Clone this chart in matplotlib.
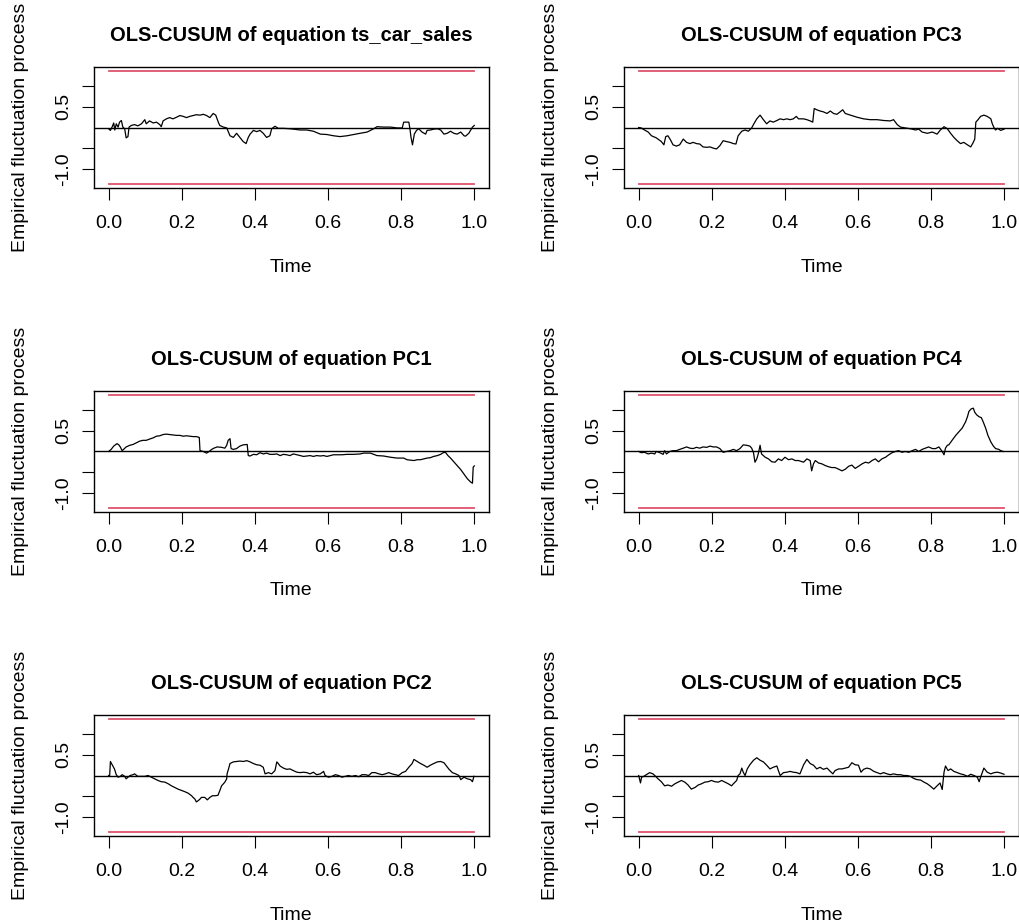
import matplotlib
matplotlib.use("Agg")
import matplotlib.pyplot as plt

plt.rcParams['font.family'] = ['Liberation Sans', 'DejaVu Sans']

# critical boundary of the OLS-CUSUM test (5%)
boundary = 1.358

titles = ["OLS-CUSUM of equation ts_car_sales", "OLS-CUSUM of equation PC3",
          "OLS-CUSUM of equation PC1", "OLS-CUSUM of equation PC4",
          "OLS-CUSUM of equation PC2", "OLS-CUSUM of equation PC5"]

t_car = [0.000, 0.005, 0.010, 0.014, 0.017, 0.021, 0.026, 0.030, 0.035, 0.039, 0.044, 0.048, 0.053, 0.056,
         0.062, 0.071, 0.080, 0.090, 0.099, 0.103, 0.112, 0.122, 0.131, 0.140, 0.144, 0.149, 0.158, 0.167,
         0.176, 0.186, 0.195, 0.204, 0.213, 0.222, 0.231, 0.240, 0.250, 0.259, 0.268, 0.277, 0.286, 0.293,
         0.300, 0.304, 0.314, 0.323, 0.332, 0.341, 0.350, 0.359, 0.368, 0.376, 0.382, 0.387, 0.396, 0.405,
         0.414, 0.423, 0.432, 0.441, 0.446, 0.455, 0.464, 0.478, 0.496, 0.515, 0.524, 0.542, 0.560, 0.579,
         0.597, 0.615, 0.633, 0.652, 0.670, 0.688, 0.707, 0.725, 0.734, 0.752, 0.771, 0.789, 0.803, 0.807,
         0.821, 0.824, 0.827, 0.831, 0.836, 0.842, 0.848, 0.857, 0.867, 0.871, 0.880, 0.889, 0.899, 0.908,
         0.917, 0.926, 0.935, 0.944, 0.953, 0.963, 0.972, 0.976, 0.985, 0.995, 1.000]
v_car = [-0.03, -0.07, 0.02, 0.11, -0.06, 0.09, 0.01, 0.13, 0.17, 0.01, -0.03, -0.25, -0.22, 0.01,
         0.05, 0.07, 0.04, 0.09, 0.19, 0.09, 0.16, 0.11, 0.13, 0.07, 0.02, 0.16, 0.21, 0.24,
         0.21, 0.25, 0.29, 0.27, 0.24, 0.27, 0.29, 0.31, 0.30, 0.32, 0.29, 0.24, 0.34, 0.30,
         0.13, 0.05, 0.01, -0.01, -0.20, -0.24, -0.14, -0.24, -0.34, -0.39, -0.24, -0.16, -0.07, -0.10,
         -0.07, -0.14, -0.24, -0.20, -0.03, 0.03, -0.02, -0.02, -0.03, -0.05, -0.06, -0.06, -0.09, -0.16,
         -0.17, -0.20, -0.22, -0.20, -0.17, -0.14, -0.11, -0.03, 0.02, 0.01, 0.01, -0.01, -0.01, 0.13,
         0.13, -0.03, -0.24, -0.42, -0.16, -0.07, -0.03, -0.11, -0.16, -0.07, -0.06, -0.04, -0.03, -0.06,
         -0.16, -0.14, -0.09, -0.14, -0.16, -0.11, -0.20, -0.21, -0.14, 0.01, 0.05]

t_pc3 = [0.000, 0.007, 0.016, 0.026, 0.035, 0.048, 0.062, 0.069, 0.074, 0.080, 0.087, 0.094, 0.103, 0.112,
         0.122, 0.131, 0.140, 0.149, 0.158, 0.167, 0.176, 0.186, 0.195, 0.204, 0.213, 0.222, 0.231, 0.240,
         0.250, 0.259, 0.266, 0.272, 0.282, 0.291, 0.300, 0.309, 0.315, 0.323, 0.332, 0.341, 0.350, 0.359,
         0.368, 0.378, 0.387, 0.396, 0.405, 0.414, 0.423, 0.431, 0.437, 0.451, 0.460, 0.469, 0.476, 0.480,
         0.487, 0.496, 0.505, 0.515, 0.524, 0.533, 0.542, 0.551, 0.558, 0.565, 0.579, 0.597, 0.615, 0.633,
         0.652, 0.670, 0.688, 0.697, 0.707, 0.716, 0.729, 0.743, 0.757, 0.766, 0.775, 0.789, 0.803, 0.816,
         0.825, 0.835, 0.844, 0.853, 0.862, 0.871, 0.880, 0.889, 0.899, 0.908, 0.915, 0.919, 0.922, 0.928,
         0.935, 0.944, 0.953, 0.963, 0.967, 0.972, 0.976, 0.981, 0.990, 0.999]
v_pc3 = [0.00, -0.01, -0.06, -0.11, -0.20, -0.25, -0.34, -0.42, -0.22, -0.20, -0.30, -0.42, -0.45, -0.42,
         -0.28, -0.36, -0.39, -0.36, -0.39, -0.40, -0.47, -0.48, -0.47, -0.50, -0.52, -0.44, -0.32, -0.34,
         -0.36, -0.39, -0.40, -0.20, -0.09, -0.06, -0.09, -0.01, 0.09, 0.21, 0.30, 0.19, 0.09, 0.16,
         0.13, 0.17, 0.21, 0.19, 0.21, 0.19, 0.21, 0.27, 0.21, 0.21, 0.19, 0.16, 0.13, 0.46,
         0.43, 0.40, 0.38, 0.34, 0.40, 0.34, 0.32, 0.38, 0.43, 0.34, 0.30, 0.25, 0.21, 0.19,
         0.19, 0.17, 0.16, 0.19, 0.07, 0.01, -0.01, -0.03, -0.06, -0.04, -0.11, -0.14, -0.11, -0.16,
         -0.06, 0.02, -0.03, -0.14, -0.24, -0.32, -0.39, -0.36, -0.42, -0.47, -0.36, -0.28, 0.13, 0.19,
         0.27, 0.30, 0.27, 0.21, 0.09, -0.01, -0.06, -0.02, -0.07, -0.04]

t_pc1 = [0.000, 0.003, 0.007, 0.014, 0.023, 0.028, 0.032, 0.037, 0.041, 0.048, 0.058, 0.067, 0.076, 0.085,
         0.094, 0.103, 0.112, 0.122, 0.131, 0.140, 0.149, 0.158, 0.167, 0.176, 0.186, 0.195, 0.204, 0.213,
         0.222, 0.231, 0.240, 0.248, 0.250, 0.259, 0.268, 0.275, 0.282, 0.288, 0.297, 0.309, 0.318, 0.323,
         0.327, 0.332, 0.335, 0.341, 0.350, 0.359, 0.368, 0.379, 0.382, 0.387, 0.396, 0.405, 0.414, 0.423,
         0.432, 0.441, 0.451, 0.460, 0.469, 0.478, 0.487, 0.496, 0.505, 0.515, 0.524, 0.533, 0.542, 0.551,
         0.560, 0.569, 0.579, 0.588, 0.597, 0.606, 0.615, 0.638, 0.652, 0.670, 0.688, 0.697, 0.716, 0.725,
         0.734, 0.752, 0.771, 0.789, 0.807, 0.816, 0.825, 0.835, 0.844, 0.853, 0.862, 0.871, 0.880, 0.889,
         0.899, 0.908, 0.915, 0.921, 0.928, 0.935, 0.944, 0.953, 0.963, 0.972, 0.981, 0.990, 0.995, 0.997,
         1.000]
v_pc1 = [0.00, 0.02, 0.05, 0.13, 0.19, 0.16, 0.11, 0.02, 0.05, 0.11, 0.15, 0.17, 0.21, 0.25,
         0.27, 0.27, 0.30, 0.33, 0.37, 0.38, 0.41, 0.42, 0.41, 0.40, 0.39, 0.39, 0.37, 0.38,
         0.37, 0.36, 0.36, 0.34, 0.02, 0.00, -0.04, 0.00, 0.05, 0.08, 0.11, 0.10, 0.08, 0.15,
         0.27, 0.31, 0.07, 0.05, 0.07, 0.13, 0.16, 0.17, -0.10, -0.11, -0.07, -0.08, -0.03, -0.06,
         -0.04, -0.07, -0.07, -0.06, -0.10, -0.07, -0.08, -0.10, -0.06, -0.08, -0.10, -0.12, -0.11, -0.10,
         -0.12, -0.10, -0.11, -0.10, -0.12, -0.10, -0.08, -0.08, -0.07, -0.07, -0.06, -0.04, -0.04, -0.07,
         -0.10, -0.11, -0.14, -0.16, -0.16, -0.20, -0.21, -0.22, -0.20, -0.20, -0.18, -0.16, -0.15, -0.12,
         -0.10, -0.07, -0.03, -0.02, -0.10, -0.16, -0.25, -0.34, -0.44, -0.55, -0.66, -0.74, -0.77, -0.38,
         -0.35]

t_pc4 = [0.000, 0.007, 0.016, 0.026, 0.035, 0.044, 0.048, 0.058, 0.067, 0.071, 0.076, 0.085, 0.094, 0.103,
         0.112, 0.122, 0.131, 0.140, 0.149, 0.158, 0.167, 0.176, 0.186, 0.195, 0.204, 0.213, 0.222, 0.231,
         0.240, 0.250, 0.259, 0.268, 0.277, 0.286, 0.295, 0.304, 0.309, 0.314, 0.318, 0.323, 0.327, 0.332,
         0.336, 0.346, 0.355, 0.364, 0.373, 0.382, 0.391, 0.400, 0.410, 0.419, 0.428, 0.437, 0.451, 0.460,
         0.469, 0.473, 0.478, 0.483, 0.492, 0.501, 0.510, 0.519, 0.528, 0.537, 0.547, 0.556, 0.565, 0.574,
         0.583, 0.592, 0.601, 0.611, 0.620, 0.629, 0.638, 0.647, 0.656, 0.665, 0.675, 0.684, 0.693, 0.702,
         0.711, 0.720, 0.729, 0.739, 0.748, 0.757, 0.766, 0.775, 0.784, 0.793, 0.803, 0.812, 0.821, 0.830,
         0.835, 0.839, 0.844, 0.848, 0.857, 0.867, 0.876, 0.885, 0.894, 0.899, 0.903, 0.909, 0.915, 0.919,
         0.924, 0.931, 0.937, 0.942, 0.949, 0.955, 0.963, 0.970, 0.976, 0.985, 0.990, 0.997]
v_pc4 = [0.00, -0.03, -0.02, -0.06, -0.04, -0.06, 0.00, -0.03, -0.07, 0.02, -0.06, 0.00, 0.02, 0.02,
         0.05, 0.08, 0.11, 0.08, 0.07, 0.10, 0.08, 0.11, 0.10, 0.13, 0.11, 0.11, 0.07, -0.02,
         0.00, 0.02, 0.05, 0.02, 0.07, 0.16, 0.15, 0.13, 0.08, -0.03, -0.26, -0.18, -0.06, 0.15,
         -0.06, -0.14, -0.18, -0.25, -0.26, -0.18, -0.22, -0.14, -0.20, -0.18, -0.22, -0.22, -0.26, -0.18,
         -0.22, -0.47, -0.30, -0.22, -0.28, -0.30, -0.34, -0.37, -0.39, -0.39, -0.43, -0.47, -0.43, -0.36,
         -0.33, -0.41, -0.36, -0.30, -0.26, -0.28, -0.22, -0.18, -0.25, -0.18, -0.14, -0.08, -0.03, 0.00,
         0.02, -0.02, 0.00, -0.02, 0.02, 0.05, 0.00, 0.05, 0.08, 0.11, 0.07, 0.07, 0.11, 0.00,
         -0.08, 0.08, 0.15, 0.16, 0.27, 0.39, 0.48, 0.57, 0.72, 0.84, 0.97, 1.03, 1.05, 0.95,
         0.89, 0.84, 0.82, 0.72, 0.56, 0.39, 0.23, 0.13, 0.07, 0.05, 0.02, 0.00]

t_pc2 = [0.000, 0.003, 0.005, 0.010, 0.016, 0.021, 0.026, 0.032, 0.037, 0.044, 0.048, 0.053, 0.059, 0.067,
         0.071, 0.080, 0.090, 0.099, 0.108, 0.117, 0.126, 0.135, 0.144, 0.154, 0.163, 0.172, 0.181, 0.190,
         0.199, 0.208, 0.218, 0.227, 0.231, 0.236, 0.240, 0.245, 0.250, 0.254, 0.263, 0.270, 0.277, 0.284,
         0.292, 0.299, 0.304, 0.309, 0.314, 0.318, 0.323, 0.324, 0.328, 0.332, 0.341, 0.350, 0.359, 0.368,
         0.378, 0.387, 0.396, 0.405, 0.414, 0.423, 0.428, 0.437, 0.446, 0.455, 0.460, 0.464, 0.469, 0.478,
         0.487, 0.496, 0.505, 0.515, 0.524, 0.533, 0.542, 0.551, 0.560, 0.569, 0.579, 0.588, 0.592, 0.601,
         0.611, 0.620, 0.629, 0.638, 0.647, 0.656, 0.665, 0.675, 0.684, 0.693, 0.702, 0.711, 0.720, 0.729,
         0.739, 0.748, 0.757, 0.766, 0.775, 0.784, 0.793, 0.803, 0.812, 0.821, 0.830, 0.835, 0.844, 0.853,
         0.862, 0.871, 0.880, 0.889, 0.899, 0.908, 0.917, 0.924, 0.931, 0.940, 0.949, 0.958, 0.963, 0.972,
         0.981, 0.990, 0.995, 0.999]
v_pc2 = [0.00, 0.00, 0.34, 0.26, 0.16, 0.02, -0.04, -0.02, 0.02, -0.02, -0.08, -0.04, 0.00, 0.02,
         0.04, -0.02, -0.02, -0.02, 0.00, -0.04, -0.08, -0.12, -0.15, -0.16, -0.20, -0.25, -0.29, -0.33,
         -0.36, -0.39, -0.43, -0.49, -0.53, -0.57, -0.64, -0.61, -0.57, -0.53, -0.53, -0.59, -0.53, -0.49,
         -0.49, -0.48, -0.37, -0.25, -0.20, -0.16, -0.08, 0.04, 0.16, 0.29, 0.33, 0.34, 0.35, 0.34,
         0.36, 0.33, 0.29, 0.26, 0.25, 0.20, 0.04, 0.07, 0.04, 0.12, 0.33, 0.29, 0.23, 0.18,
         0.15, 0.16, 0.12, 0.08, 0.07, 0.08, 0.07, 0.04, 0.08, 0.02, 0.04, 0.10, 0.00, -0.04,
         -0.02, 0.02, 0.00, -0.04, -0.02, 0.00, -0.02, 0.00, -0.03, 0.02, 0.02, 0.00, 0.07, 0.07,
         0.04, 0.02, 0.04, 0.07, 0.04, 0.02, 0.00, 0.07, 0.10, 0.20, 0.29, 0.39, 0.34, 0.29,
         0.25, 0.20, 0.25, 0.29, 0.33, 0.34, 0.31, 0.23, 0.15, 0.07, 0.04, 0.00, -0.10, -0.04,
         -0.08, -0.10, -0.15, -0.02]

t_pc5 = [0.000, 0.005, 0.008, 0.014, 0.021, 0.030, 0.039, 0.044, 0.053, 0.062, 0.071, 0.080, 0.090, 0.099,
         0.108, 0.117, 0.126, 0.135, 0.144, 0.154, 0.163, 0.172, 0.181, 0.190, 0.199, 0.208, 0.218, 0.227,
         0.236, 0.245, 0.254, 0.259, 0.268, 0.272, 0.277, 0.282, 0.286, 0.291, 0.297, 0.304, 0.314, 0.323,
         0.332, 0.341, 0.350, 0.359, 0.368, 0.378, 0.382, 0.387, 0.396, 0.405, 0.414, 0.423, 0.432, 0.441,
         0.451, 0.460, 0.469, 0.478, 0.487, 0.496, 0.505, 0.515, 0.524, 0.531, 0.537, 0.547, 0.556, 0.565,
         0.574, 0.583, 0.592, 0.601, 0.608, 0.615, 0.624, 0.633, 0.643, 0.652, 0.661, 0.670, 0.679, 0.688,
         0.697, 0.707, 0.716, 0.725, 0.734, 0.743, 0.752, 0.761, 0.771, 0.780, 0.789, 0.798, 0.807, 0.816,
         0.824, 0.830, 0.835, 0.839, 0.846, 0.853, 0.862, 0.871, 0.880, 0.889, 0.899, 0.908, 0.917, 0.926,
         0.931, 0.935, 0.944, 0.953, 0.963, 0.972, 0.981, 0.990, 0.999]
v_pc5 = [0.00, -0.18, -0.04, -0.02, 0.02, 0.07, 0.04, 0.00, -0.08, -0.15, -0.25, -0.23, -0.26, -0.20,
         -0.16, -0.12, -0.16, -0.23, -0.33, -0.29, -0.23, -0.20, -0.16, -0.15, -0.12, -0.15, -0.16, -0.12,
         -0.16, -0.20, -0.25, -0.20, -0.12, 0.00, 0.04, 0.18, 0.08, 0.00, 0.16, 0.26, 0.37, 0.43,
         0.37, 0.33, 0.25, 0.16, 0.20, 0.23, 0.12, 0.00, 0.07, 0.08, 0.10, 0.08, 0.07, 0.04,
         0.26, 0.39, 0.29, 0.25, 0.16, 0.20, 0.15, 0.18, 0.10, 0.04, 0.12, 0.16, 0.16, 0.18,
         0.20, 0.31, 0.26, 0.25, 0.08, 0.15, 0.18, 0.16, 0.10, 0.07, 0.04, 0.07, 0.04, 0.02,
         0.04, 0.02, 0.02, 0.00, 0.00, -0.02, -0.07, -0.10, -0.11, -0.16, -0.20, -0.26, -0.33, -0.25,
         -0.18, -0.34, 0.08, 0.23, 0.12, 0.16, 0.10, 0.07, 0.04, 0.02, -0.02, 0.03, 0.00, -0.04,
         -0.15, -0.04, 0.18, 0.08, 0.04, 0.07, 0.08, 0.06, 0.03]

series = [(t_car, v_car), (t_pc3, v_pc3), (t_pc1, v_pc1),
          (t_pc4, v_pc4), (t_pc2, v_pc2), (t_pc5, v_pc5)]

fig = plt.figure(figsize=(10.19, 9.24), dpi=100)

lefts = [0.0922, 0.6124]
bottoms = [0.7965, 0.4459, 0.0952]
w, h = 0.3876, 0.131
red = '#DF536B'

for i, (tt, vv) in enumerate(series):
    r, c = divmod(i, 2)
    ax = fig.add_axes([lefts[c], bottoms[r], w, h])
    ax.plot(tt, vv, color='black', lw=0.9)
    ax.axhline(0, color='black', lw=1.0)
    ax.plot([0, 1], [boundary, boundary], color=red, lw=1.3)
    ax.plot([0, 1], [-boundary, -boundary], color=red, lw=1.3)
    ax.set_xlim(-0.04, 1.04)
    ax.set_ylim(-boundary * 1.08, boundary * 1.08)
    ax.set_xticks([0, 0.2, 0.4, 0.6, 0.8, 1.0])
    ax.set_xticklabels(['0.0', '0.2', '0.4', '0.6', '0.8', '1.0'])
    ax.set_yticks([-1.0, -0.5, 0.5, 1.0])
    ax.set_yticklabels(['-1.0', '', '0.5', ''], rotation=90, va='center')
    ax.tick_params(axis='both', direction='out', length=8.5, width=0.8, labelsize=14, colors='black')
    ax.tick_params(axis='x', pad=11)
    ax.tick_params(axis='y', pad=7)
    for s in ax.spines.values():
        s.set_linewidth(1.0)
    ax.set_title(titles[i], fontsize=14.5, fontweight='bold', pad=19)
    ax.set_xlabel('Time', fontsize=14, labelpad=19)
    ax.set_ylabel('Empirical fluctuation process', fontsize=14, labelpad=19)

fig.savefig('out.png', dpi=100)
